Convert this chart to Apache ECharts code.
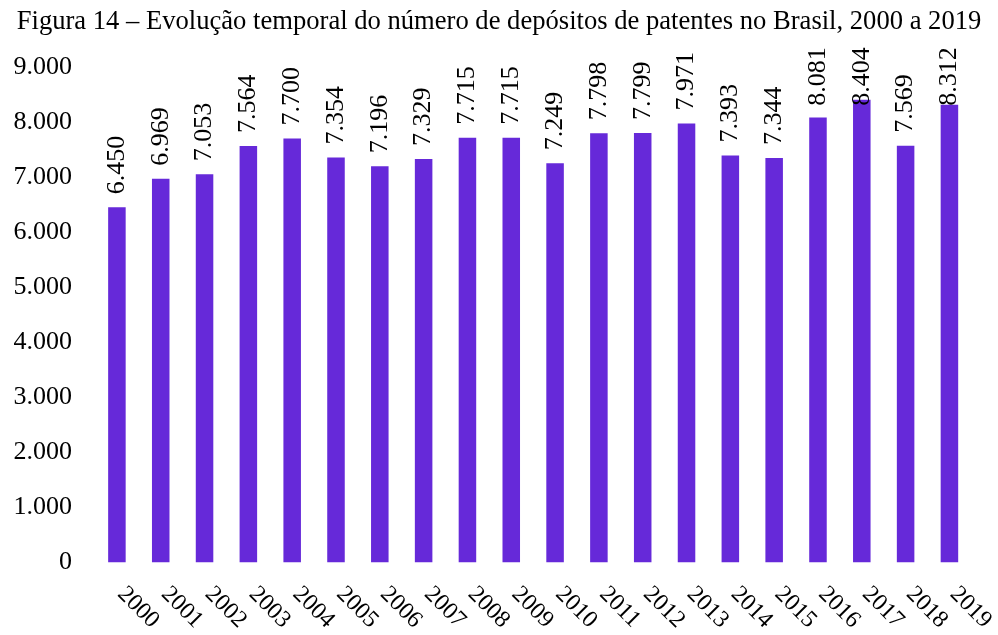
<!DOCTYPE html>
<html><head><meta charset="utf-8">
<script src="https://cdn.jsdelivr.net/npm/echarts@6/dist/echarts.min.js"></script>
<style>html,body{margin:0;padding:0;background:#fff}#c{width:998px;height:635px}</style>
</head><body><div id="c"></div>
<script>
const titleText = 'Figura 14 – Evolução temporal do número de depósitos de patentes no Brasil, 2000 a 2019';
const years = ['2000','2001','2002','2003','2004','2005','2006','2007','2008','2009','2010','2011','2012','2013','2014','2015','2016','2017','2018','2019'];
const deposits = [6450,6969,7053,7564,7700,7354,7196,7329,7715,7715,7249,7798,7799,7971,7393,7344,8081,8404,7569,8312];
const yMin = 0, yMax = 9000, yStep = 1000;

const fmt = v => String(v).replace(/\B(?=(\d{3})+(?!\d))/g, '.');
const FONT = '"Liberation Serif", "Times New Roman", serif';
const chart = echarts.init(document.getElementById('c'), null, {renderer:'canvas'});

// Keep labels inside the chart area (like the original): push down those that would overflow at the top
const gridTop = 67, gridH = 498, labelLen = 58, labelGap = 13, topLimit = 48;
const items = deposits.map(v => {
  const barTop = gridTop + gridH * (1 - (v - yMin) / (yMax - yMin));
  const labelTop = barTop - labelGap - labelLen;
  const shift = labelTop < topLimit ? topLimit - labelTop : 0;
  return shift ? {value: v, label: {offset: [-shift, 0]}} : v;
});

chart.setOption({
  animation: false,
  title: {text: titleText, left: 'center', top: 4,
    textStyle: {fontFamily: FONT, fontWeight: 'normal', fontSize: 26.6, color: '#000'}},
  grid: {left: 95, right: 18, top: gridTop, height: gridH},
  xAxis: {type: 'category', data: years,
    axisLine: {show: false}, axisTick: {show: false},
    axisLabel: {rotate: -45, margin: 24, padding: [0, 0, 0, 6], fontFamily: FONT, fontSize: 24, color: '#000', interval: 0}},
  yAxis: {type: 'value', min: yMin, max: yMax, interval: yStep,
    axisLine: {show: false}, axisTick: {show: false}, splitLine: {show: false},
    axisLabel: {formatter: fmt, margin: 23, fontFamily: FONT, fontSize: 26, color: '#000'}},
  series: [{type: 'bar', data: items, barWidth: '40%',
    itemStyle: {color: '#6629D9'},
    label: {show: true, position: 'top', distance: labelGap, rotate: 90, align: 'left', verticalAlign: 'middle',
      formatter: p => fmt(p.value), fontFamily: FONT, fontSize: 26, color: '#000'}}]
});
</script></body></html>
